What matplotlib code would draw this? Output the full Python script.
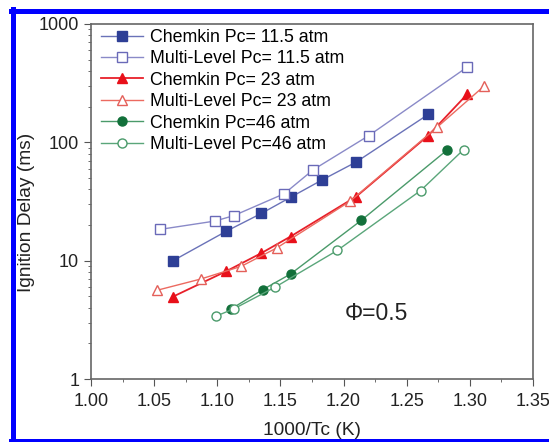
import matplotlib
matplotlib.use("Agg")
import matplotlib.pyplot as plt
from matplotlib.lines import Line2D
from matplotlib.ticker import MultipleLocator, LogLocator, NullFormatter

plt.rcParams["font.family"] = ["Liberation Sans", "DejaVu Sans"]

# Chemkin / Multi-Level ignition delays (ms) vs 1000/Tc
ck115_x = [1.065, 1.107, 1.135, 1.158, 1.183, 1.210, 1.267]
ck115_y = [10.0, 17.7, 25.1, 34.3, 48.1, 68.2, 172]
ml115_x = [1.055, 1.098, 1.113, 1.153, 1.176, 1.220, 1.298]
ml115_y = [18.4, 21.6, 24.0, 36.8, 58.7, 114, 433]
ck23_x = [1.065, 1.107, 1.135, 1.158, 1.210, 1.267, 1.298]
ck23_y = [4.97, 8.13, 11.6, 16.0, 34.8, 114, 256]
ml23_x = [1.052, 1.087, 1.119, 1.147, 1.205, 1.274, 1.311]
ml23_y = [5.61, 7.0, 8.96, 12.8, 31.7, 134, 297]
ck46_x = [1.111, 1.136, 1.158, 1.214, 1.282]
ck46_y = [3.91, 5.69, 7.71, 21.9, 86.1]
ml46_x = [1.099, 1.113, 1.146, 1.195, 1.261, 1.295]
ml46_y = [3.40, 3.91, 5.99, 12.2, 39.1, 86.7]

W, H = 549, 442
fig = plt.figure(figsize=(W / 100, H / 100), dpi=100)
ax = fig.add_axes([91 / W, 1 - 379 / H, (533 - 91) / W, (379 - 24) / H])

ms = 6.5
ax.plot(ck115_x, ck115_y, "-s", color="#6a72b8", mfc="#2e3f96", mec="#2e3f96",
        lw=1, ms=ms, label="Chemkin Pc= 11.5 atm")
ax.plot(ml115_x, ml115_y, "-s", color="#8a8ac8", mfc="white", mec="#6a6ab8",
        lw=1, ms=ms, label="Multi-Level Pc= 11.5 atm")
ax.plot(ck23_x, ck23_y, "-^", color="#e8202a", mfc="#e8101a", mec="#e8101a",
        lw=1.3, ms=ms + 1, label="Chemkin Pc= 23 atm")
ax.plot(ml23_x, ml23_y, "-^", color="#ec6a60", mfc="white", mec="#e4605a",
        lw=1, ms=ms + 1, label="Multi-Level Pc= 23 atm")
ax.plot(ck46_x, ck46_y, "-o", color="#4a9a6a", mfc="#12703a", mec="#12703a",
        lw=1, ms=ms, label="Chemkin Pc=46 atm")
ax.plot(ml46_x, ml46_y, "-o", color="#5aa67a", mfc="white", mec="#4a9a6a",
        lw=1, ms=ms, label="Multi-Level Pc=46 atm")

ax.set_yscale("log")
ax.set_xlim(1.0, 1.35)
ax.set_ylim(1, 1000)
ax.xaxis.set_major_locator(MultipleLocator(0.05))
ax.xaxis.set_minor_locator(MultipleLocator(0.025))
ax.xaxis.set_major_formatter(plt.FuncFormatter(lambda v, p: f"{v:.2f}"))
ax.yaxis.set_major_formatter(plt.FuncFormatter(lambda v, p: f"{v:g}"))
ax.yaxis.set_minor_locator(LogLocator(subs=range(2, 10)))
ax.yaxis.set_minor_formatter(NullFormatter())
ax.tick_params(which="both", direction="out", top=False, right=False,
               colors="#555555", labelcolor="#222222", labelsize=13)
ax.tick_params(which="major", length=5)
ax.tick_params(which="minor", length=2.5)
ax.tick_params(axis="x", pad=5)
for s in ax.spines.values():
    s.set_color("#666666")
    s.set_linewidth(1.2)

ax.set_xlabel("1000/Tc (K)", fontsize=13.8, color="#222222")
ax.set_ylabel("Ignition Delay (ms)", fontsize=13.8, color="#222222")
ax.xaxis.set_label_coords(0.5, -43 / 355)
ax.yaxis.set_label_coords(-56 / 442, 0.47)

ax.text(1.226, 3.6, "\u03a6=0.5", fontsize=16.5, ha="center", va="center", color="#222222")

leg = ax.legend(loc="upper left", bbox_to_anchor=(0.0, 1 + 5 / 355), frameon=False,
                fontsize=12.8, handlelength=2.4, handletextpad=0.35,
                labelspacing=0.25, borderaxespad=0.35, borderpad=0.2)

# blue frame round the figure (cut off on the right)
blue = "#0000ff"
fig.lines.append(Line2D([11 / W, 1], [1 - 10.5 / H] * 2, transform=fig.transFigure,
                        color=blue, lw=3.6))
fig.lines.append(Line2D([13 / W] * 2, [1 - 9 / H, 0], transform=fig.transFigure,
                        color=blue, lw=3.6))
fig.lines.append(Line2D([11 / W, 1], [1 - 440.5 / H] * 2, transform=fig.transFigure,
                        color=blue, lw=3.6))

fig.savefig("out.png", dpi=100)
